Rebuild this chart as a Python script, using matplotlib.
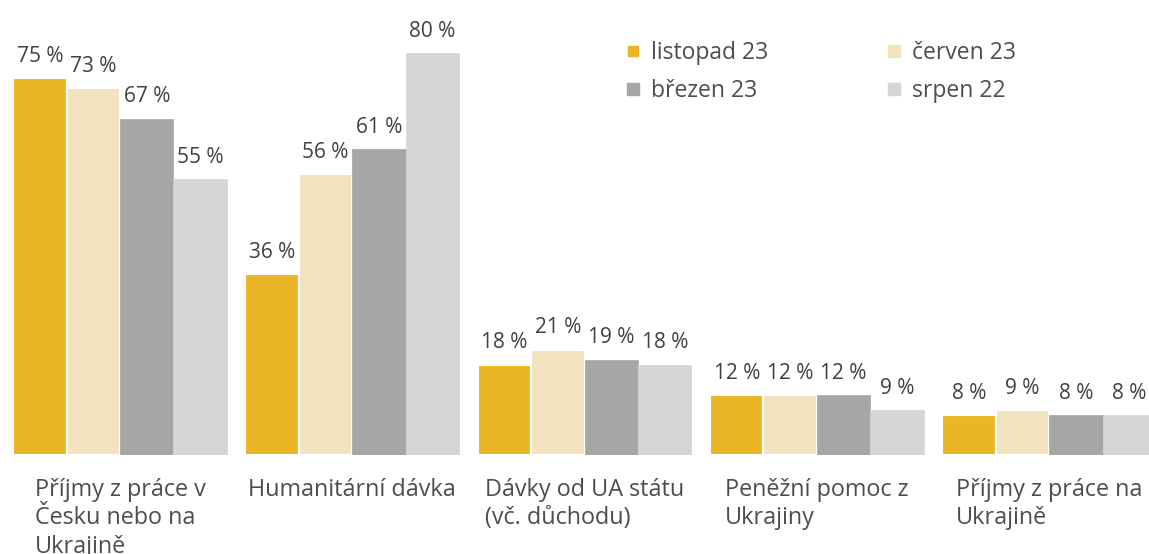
import matplotlib
matplotlib.use("Agg")
import matplotlib.pyplot as plt
from matplotlib.lines import Line2D
import numpy as np

categories = ["Příjmy z práce v\nČesku nebo na\nUkrajině",
              "Humanitární dávka",
              "Dávky od UA státu\n(vč. důchodu)",
              "Peněžní pomoc z\nUkrajiny",
              "Příjmy z práce na\nUkrajině"]
series_names = ["listopad 23", "červen 23", "březen 23", "srpen 22"]
listopad_23 = [75, 36, 18, 12, 8]
cerven_23 = [73, 56, 21, 12, 9]
brezen_23 = [67, 61, 19, 12, 8]
srpen_22 = [55, 80, 18, 9, 8]
series_values = [listopad_23, cerven_23, brezen_23, srpen_22]
colors = ["#EBB625", "#F2E3BF", "#A6A6A6", "#D6D6D6"]

plt.rcParams['font.family'] = ['Open Sans', 'DejaVu Sans']
text_col = "#4D4D4D"

fig = plt.figure(figsize=(11.49, 5.54), dpi=100)
ax = fig.add_axes([0, 0.1787, 1, 0.8213])

x = np.arange(len(categories))
w = 0.23
for k, (vals, col) in enumerate(zip(series_values, colors)):
    pos = x + (k - 1.5) * w
    ec = "white" if k < 2 else col
    lw = 1.5 if k < 2 else 0.5
    bars = ax.bar(pos, vals, width=w, color=col, edgecolor=ec, linewidth=lw)
    for b, v in zip(bars, vals):
        ax.annotate(f"{v} %", (b.get_x() + b.get_width() / 2, v),
                    xytext=(0, 8), textcoords="offset points",
                    ha="center", va="bottom", fontsize=15, color="#404040")

ax.set_xlim(-0.5166, 4.4296)
ax.set_ylim(0, 90.6)
ax.axis("off")

for xi, lab in zip(x, categories):
    ax.text(xi, -4.5, lab, ha="center", va="top", multialignment="left",
            fontsize=16.8, color=text_col, linespacing=1.27)

handles = [Line2D([], [], marker="s", linestyle="none", markersize=ms, color=c)
           for c, ms in zip(colors, [7, 9, 9, 9])]
order = [0, 2, 1, 3]
leg = ax.legend([handles[i] for i in order], [series_names[i] for i in order],
                ncol=2, loc="upper left", bbox_to_anchor=(0.527, 0.955),
                frameon=False, fontsize=16.5, handlelength=0.6, handletextpad=0.5,
                columnspacing=5.15, labelspacing=0.6, labelcolor=text_col)

fig.savefig("out.png", dpi=100)
